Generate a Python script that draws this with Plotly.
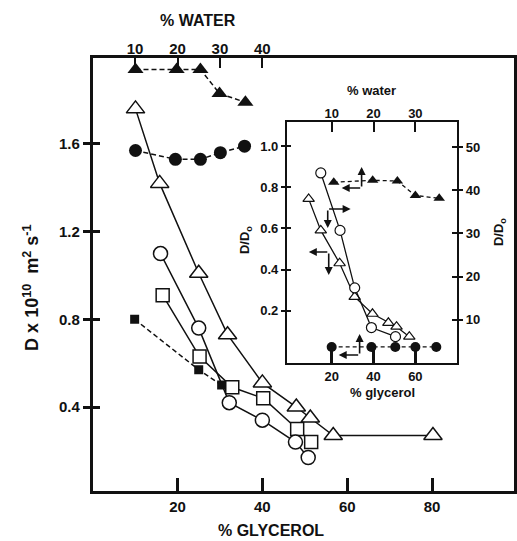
import plotly.graph_objects as go

W, H = 517, 541

# ---------------- main panel data ----------------
water_ftri = [10.1, 19.8, 25.4, 29.9, 36.0]
D_ftri = [1.94, 1.94, 1.94, 1.83, 1.79]
water_fcir = [10.1, 19.5, 25.4, 30.1, 35.8]
D_fcir = [1.57, 1.53, 1.53, 1.56, 1.59]
gly_otri = [10.1, 15.8, 25.0, 31.8, 40.0, 48.0, 51.3, 56.7, 80.2]
D_otri = [1.76, 1.42, 1.01, 0.73, 0.51, 0.40, 0.35, 0.27, 0.27]
gly_ocir = [16.0, 25.0, 32.2, 40.0, 47.8, 50.8]
D_ocir = [1.10, 0.76, 0.42, 0.34, 0.24, 0.17]
gly_osq = [16.5, 25.2, 32.9, 40.2, 48.2, 51.5]
D_osq = [0.91, 0.63, 0.49, 0.44, 0.30, 0.24]
gly_fsq = [9.9, 25.0, 30.4]
D_fsq = [0.80, 0.57, 0.50]

main_xticks = [20, 40, 60, 80]
main_water_ticks = [10, 20, 30, 40]
main_yticks = [0.4, 0.8, 1.2, 1.6]

# ---------------- inset data ----------------
in_water_ftri = [10.5, 19.8, 25.7, 30.0, 35.7]
in_rel_ftri = [0.824, 0.834, 0.830, 0.760, 0.746]
in_water_fcir = [10.0, 19.5, 25.2, 30.0, 35.0]
in_rel_fcir = [0.024, 0.024, 0.024, 0.024, 0.024]
in_gly_otri = [9.0, 14.8, 23.8, 31.0, 39.5, 47.1, 51.0, 57.1]
in_ratio_otri = [38.0, 30.7, 23.1, 15.3, 11.4, 9.3, 8.4, 6.1]
in_gly_ocir = [14.8, 24.0, 31.0, 39.0, 50.5]
in_ratio_ocir = [44.0, 30.7, 17.4, 8.2, 6.1]

in_gly_ticks = [20, 40, 60]
in_water_ticks = [10, 20, 30]
in_left_ticks = [0.2, 0.4, 0.6, 0.8, 1.0]
in_left_labels = ["0.2", "0.4", "0.6", "0.8", "1.0"]
in_right_ticks = [10, 20, 30, 40, 50]

FONT = "Liberation Sans"
BLACK = "#111111"


def px(x):
    return x / W


def py(y):
    return 1 - y / H


fig = go.Figure()

dash = "5px,3px"

# main panel traces
fig.add_trace(go.Scatter(x=water_ftri, y=D_ftri, xaxis="x2", yaxis="y", mode="lines+markers",
                         line=dict(color=BLACK, width=1.5, dash=dash),
                         marker=dict(symbol="triangle-up", size=14, color=BLACK)))
fig.add_trace(go.Scatter(x=water_fcir, y=D_fcir, xaxis="x2", yaxis="y", mode="lines+markers",
                         line=dict(color=BLACK, width=1.5, dash=dash),
                         marker=dict(symbol="circle", size=13, color=BLACK)))
fig.add_trace(go.Scatter(x=gly_fsq, y=D_fsq, xaxis="x", yaxis="y", mode="lines+markers",
                         line=dict(color=BLACK, width=1.5, dash=dash),
                         marker=dict(symbol="square", size=9, color=BLACK)))
fig.add_trace(go.Scatter(x=gly_otri, y=D_otri, xaxis="x", yaxis="y", mode="lines+markers",
                         line=dict(color=BLACK, width=1.5),
                         marker=dict(symbol="triangle-up", size=16, color="white",
                                     line=dict(color=BLACK, width=1.5))))
fig.add_trace(go.Scatter(x=gly_osq, y=D_osq, xaxis="x", yaxis="y", mode="lines+markers",
                         line=dict(color=BLACK, width=1.5),
                         marker=dict(symbol="square", size=13, color="white",
                                     line=dict(color=BLACK, width=1.5))))
fig.add_trace(go.Scatter(x=gly_ocir, y=D_ocir, xaxis="x", yaxis="y", mode="lines+markers",
                         line=dict(color=BLACK, width=1.5),
                         marker=dict(symbol="circle", size=14, color="white",
                                     line=dict(color=BLACK, width=1.5))))
# dummy trace for inner-tick overlay axis of main y
fig.add_trace(go.Scatter(x=[None], y=[None], xaxis="x", yaxis="y2", showlegend=False))

# inset traces
fig.add_trace(go.Scatter(x=in_water_ftri, y=in_rel_ftri, xaxis="x4", yaxis="y3", mode="lines+markers",
                         line=dict(color=BLACK, width=1.3, dash="4px,3px"),
                         marker=dict(symbol="triangle-up", size=10, color=BLACK)))
fig.add_trace(go.Scatter(x=in_water_fcir, y=in_rel_fcir, xaxis="x4", yaxis="y3", mode="lines+markers",
                         line=dict(color=BLACK, width=1.3, dash="4px,3px"),
                         marker=dict(symbol="circle", size=10, color=BLACK)))
fig.add_trace(go.Scatter(x=in_gly_otri, y=in_ratio_otri, xaxis="x3", yaxis="y4", mode="lines+markers",
                         line=dict(color=BLACK, width=1.3),
                         marker=dict(symbol="triangle-up", size=10, color="white",
                                     line=dict(color=BLACK, width=1.2))))
fig.add_trace(go.Scatter(x=in_gly_ocir, y=in_ratio_ocir, xaxis="x3", yaxis="y4", mode="lines+markers",
                         line=dict(color=BLACK, width=1.3),
                         marker=dict(symbol="circle", size=10, color="white",
                                     line=dict(color=BLACK, width=1.2))))
fig.add_trace(go.Scatter(x=[None], y=[None], xaxis="x3", yaxis="y5", showlegend=False))
fig.add_trace(go.Scatter(x=[None], y=[None], xaxis="x3", yaxis="y6", showlegend=False))

main_xdom = [px(93), px(516)]
main_ydom = [py(491), py(58)]
in_xdom = [px(288), px(459)]
in_ydom = [py(363), py(122)]

main_xr = [0, 99.3]
main_yr = [0.017, 1.992]
in_gr = [-1.4, 80]
in_wr = [-0.7, 40]
in_lr = [-0.054, 1.117]
in_rr = [0, 55.8]

tf_main = dict(family=FONT, size=15, color=BLACK, weight="bold")
tf_in = dict(family=FONT, size=13, color=BLACK, weight="bold")

common = dict(showgrid=False, zeroline=False, linecolor=BLACK, tickcolor=BLACK,
              fixedrange=True)

fig.update_layout(
    width=W, height=H, margin=dict(l=0, r=0, t=0, b=0),
    paper_bgcolor="white", plot_bgcolor="rgba(0,0,0,0)",
    showlegend=False,
    xaxis=dict(domain=main_xdom, range=main_xr, anchor="y", tickvals=main_xticks,
               ticks="inside", ticklen=13, tickwidth=2.5, linewidth=2.5,
               mirror=True, showline=True, tickfont=tf_main, **common),
    xaxis2=dict(domain=main_xdom, range=main_xr, anchor="y", overlaying="x", side="top",
                tickvals=main_water_ticks, ticks="inside", ticklen=10, tickwidth=2,
                showline=False, tickfont=tf_main, **common),
    yaxis=dict(domain=main_ydom, range=main_yr, anchor="x", tickvals=main_yticks,
               ticktext=["0.4", "0.8", "1.2", "1.6"],
               ticks="outside", ticklen=7, tickwidth=2.5, linewidth=2.5,
               mirror=True, showline=True, tickfont=tf_main, **common),
    yaxis2=dict(domain=main_ydom, range=main_yr, anchor="x", overlaying="y",
                tickvals=main_yticks, ticks="inside", ticklen=7, tickwidth=2.5,
                showticklabels=False, showline=False, **common),
    xaxis3=dict(domain=in_xdom, range=in_gr, anchor="y3", tickvals=in_gly_ticks,
                ticks="inside", ticklen=15, tickwidth=2.5, linewidth=2,
                showline=True, mirror=True, tickfont=tf_in, **common),
    xaxis4=dict(domain=in_xdom, range=in_wr, anchor="y3", overlaying="x3", side="top",
                tickvals=in_water_ticks, ticks="inside", ticklen=10, tickwidth=2,
                showline=False, tickfont=tf_in, **common),
    yaxis3=dict(domain=in_ydom, range=in_lr, anchor="x3", tickvals=in_left_ticks,
                ticktext=in_left_labels,
                ticks="outside", ticklen=4, tickwidth=2, linewidth=2,
                showline=True, mirror=True, tickfont=tf_in, **common),
    yaxis4=dict(domain=in_ydom, range=in_rr, anchor="x3", overlaying="y3", side="right",
                tickvals=in_right_ticks, ticks="outside", ticklen=5, tickwidth=2,
                showline=False, tickfont=tf_in, **common),
    yaxis5=dict(domain=in_ydom, range=in_lr, anchor="x3", overlaying="y3",
                tickvals=in_left_ticks, ticks="inside", ticklen=4, tickwidth=2,
                showticklabels=False, showline=False, **common),
    yaxis6=dict(domain=in_ydom, range=in_rr, anchor="x3", overlaying="y3", side="right",
                tickvals=in_right_ticks, ticks="inside", ticklen=5, tickwidth=2,
                showticklabels=False, showline=False, **common),
)

ann = []


def label(text, x, y, size, angle=0):
    ann.append(dict(text=text, x=px(x), y=py(y), xref="paper", yref="paper",
                    xanchor="center", yanchor="middle", textangle=angle, showarrow=False,
                    font=dict(family=FONT, size=size, color=BLACK, weight="bold")))


label("% WATER", 199, 20, 16)
label("% GLYCEROL", 272, 530, 16)
label("D x 10<sup>10</sup>  m<sup>2</sup> s<sup>-1</sup>", 31, 288, 18, -90)
label("% water", 373, 90, 13)
label("% glycerol", 384, 392, 13)
label("D/D<sub>o</sub>", 246, 240, 13, -90)
label("D/D<sub>o</sub>", 501, 232, 13, -90)

# axis-pointer arrows in the inset: (corner, head) in pixel coords
arrow_pairs = [
    ((363, 188), (363, 167)), ((363, 188), (343, 188)),
    ((329, 209), (352, 209)), ((329, 209), (329, 228)),
    ((330, 252), (310, 252)), ((330, 252), (330, 275)),
    ((361, 355), (361, 334)), ((361, 355), (340, 355)),
]
for (cx, cy), (hx, hy) in arrow_pairs:
    ann.append(dict(x=px(hx), y=py(hy), xref="paper", yref="paper", ax=cx - hx, ay=cy - hy,
                    axref="pixel", ayref="pixel", showarrow=True, arrowhead=2, arrowsize=1,
                    arrowwidth=1.6, arrowcolor=BLACK, text=""))

fig.update_layout(annotations=ann)

fig.write_html("out.html")
